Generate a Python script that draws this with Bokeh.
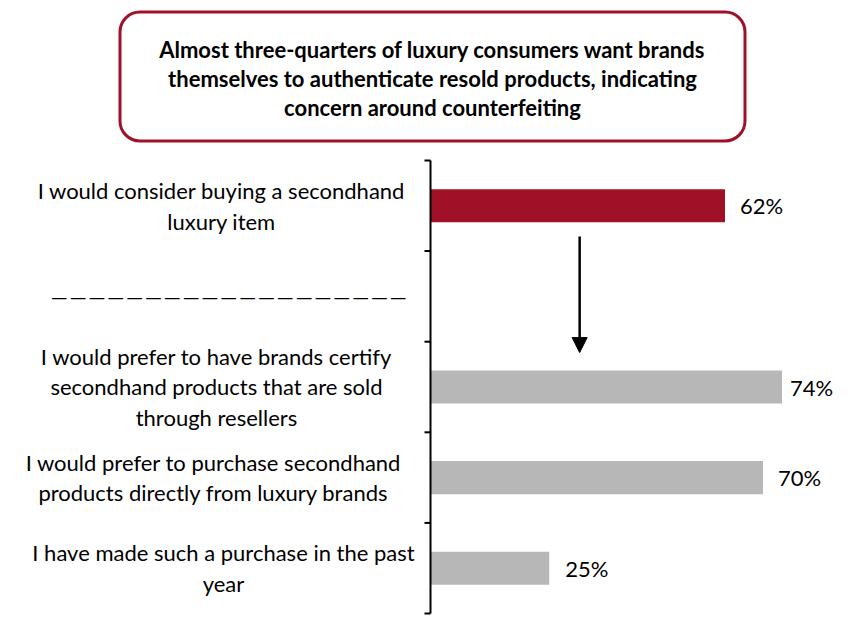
from bokeh.plotting import figure
from bokeh.models import Range1d, BoxAnnotation, Arrow, NormalHead, ColumnDataSource
from bokeh.layouts import column
from bokeh.embed import file_html
from bokeh.resources import INLINE
from bokeh.core.properties import value

# ---------------- data ----------------
title_lines = [
    "Almost three-quarters of luxury consumers want brands",
    "themselves to authenticate resold products, indicating",
    "concern around counterfeiting",
]
categories = [
    "I would consider buying a secondhand\nluxury item",
    "\u2014\u200a" * 19,
    "I would prefer to have brands certify\nsecondhand products that are sold\nthrough resellers",
    "I would prefer to purchase secondhand\nproducts directly from luxury brands",
    "I have made such a purchase in the past\nyear",
]
values = [62, None, 74, 70, 25]
highlight = [True, False, False, False, False]

# ---------------- layout / style ----------------
W = 846
TITLE_H = 150
MAIN_H = 480
AXIS_PX = 430          # pixel position of the value axis in the main figure
PX_PER_PCT = 4.75
CAT_PX = 90.6
TOP_PX = 10
TICK_PX = 6
label_center_offsets = [-209, -201, -214, -217, -207]
value_label_offsets = [15, None, 8, 15, 16]
RED = "#A01127"
GREY = "#B7B7B7"
FONT = value("Lato")
ARROW_X = 31.4
ARROW_Y0 = 0.34
ARROW_Y1 = 1.62

# ---------------- title box ----------------
t = figure(width=W, height=TITLE_H, x_range=Range1d(0, W), y_range=Range1d(0, TITLE_H),
           output_backend="svg", toolbar_location=None, min_border=0,
           x_axis_location=None, y_axis_location=None, outline_line_color=None)
t.grid.visible = False
t.add_layout(BoxAnnotation(left=119.5, right=744.5, bottom=9.5, top=138.5, border_radius=20,
                           fill_alpha=0, line_color=RED, line_width=3, line_alpha=1))
t.text(x=[432], y=[72], text=["\n".join(title_lines)], text_align="center",
       text_baseline="middle", text_font=FONT, text_font_style="bold",
       text_font_size="22px", text_color="black", text_line_height=1.08)

# ---------------- main chart ----------------
n = len(categories)
y_top = -0.5 - TOP_PX / CAT_PX
y_bot = y_top + MAIN_H / CAT_PX
p = figure(width=W, height=MAIN_H,
           x_range=Range1d(-AXIS_PX / PX_PER_PCT, (W - AXIS_PX) / PX_PER_PCT),
           y_range=Range1d(y_bot, y_top),
           output_backend="svg", toolbar_location=None, min_border=0,
           x_axis_location=None, y_axis_location=None, outline_line_color=None)
p.grid.visible = False

idx = [i for i, v in enumerate(values) if v is not None]
bars = ColumnDataSource(dict(
    y=idx,
    v=[values[i] for i in idx],
    lab=[f"{values[i]}%" for i in idx],
    c=[RED if highlight[i] else GREY for i in idx],
    xo=[value_label_offsets[i] for i in idx],
))
p.hbar(y="y", left=0, right="v", height=0.365, fill_color="c", line_color=None, source=bars)
p.text(x="v", y="y", text="lab", x_offset="xo", text_baseline="middle", text_align="left",
       text_font=FONT, text_font_size="22px", text_color="black", source=bars)

cats = ColumnDataSource(dict(y=list(range(n)), text=categories, xo=label_center_offsets))
p.text(x=0, y="y", text="text", x_offset="xo", text_align="center", text_baseline="middle",
       text_font=FONT, text_font_size="22px", text_color="black", text_line_height=1.13,
       source=cats)

# axis line with boundary ticks
bounds = [i - 0.5 for i in range(n + 1)]
p.segment(x0=[0], y0=[bounds[0]], x1=[0], y1=[bounds[-1]], line_color="black", line_width=2)
p.segment(x0=[-TICK_PX / PX_PER_PCT] * len(bounds), y0=bounds, x1=[0] * len(bounds), y1=bounds,
          line_color="black", line_width=2)

p.add_layout(Arrow(end=NormalHead(size=15, fill_color="black", line_color="black"),
                   x_start=ARROW_X, y_start=ARROW_Y0, x_end=ARROW_X, y_end=ARROW_Y1,
                   line_color="black", line_width=2.5))

layout = column(t, p, spacing=0)
open("out.html", "w").write(file_html(layout, INLINE))
